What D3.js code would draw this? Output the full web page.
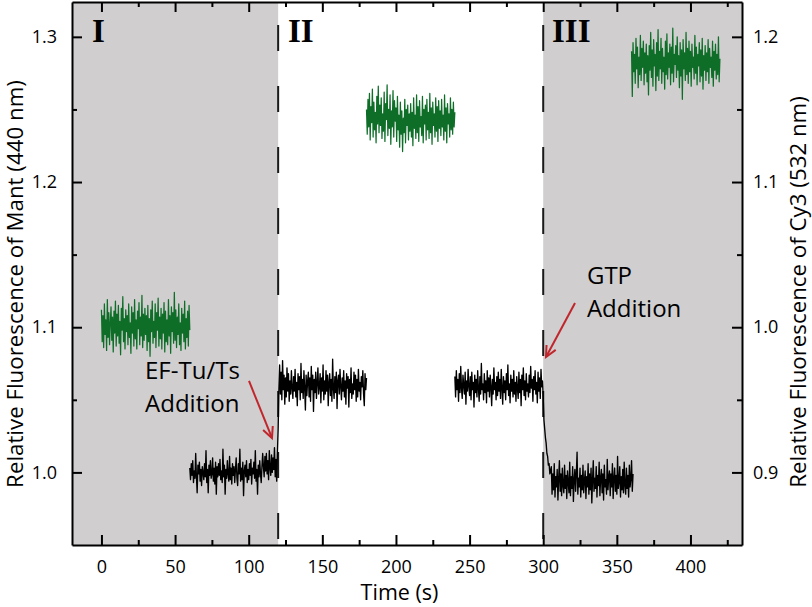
<!DOCTYPE html>
<html><head><meta charset="utf-8">
<script src="https://cdn.jsdelivr.net/npm/d3@7"></script>
<style>
html,body{margin:0;padding:0;background:#fff;}
svg{display:block;}
</style></head><body>
<svg id="chart" width="812" height="607"></svg>
<script>
// ---------------- DATA ----------------
const sampleStep = 0.5; // s between samples

// Mant fluorescence (left axis), black traces
const mantTrace1Start = 60;
const mantTrace1 = [
1.003,0.995,1.006,0.998,1.008,0.993,1.001,0.996,1.013,0.997,0.986,1.005,0.999,1.007,0.994,1.002,0.991,1.004,1.000,0.995,
1.006,0.997,1.015,0.993,1.002,0.986,1.005,0.998,1.008,0.996,0.999,1.010,0.994,1.003,0.992,1.007,0.985,1.004,0.997,1.006,
0.998,1.009,0.995,1.001,0.993,1.016,0.997,1.005,0.985,1.002,0.996,1.008,0.999,0.994,1.011,0.995,1.003,0.992,1.006,0.998,
1.004,0.993,1.002,1.010,0.996,0.991,1.006,0.999,1.016,0.994,1.003,0.995,1.007,0.984,1.001,1.005,0.997,1.008,0.993,1.002,
0.995,1.006,0.998,1.009,0.992,1.003,0.999,1.007,0.996,1.015,0.994,1.002,0.985,1.005,0.997,1.008,0.999,0.993,1.004,1.013,
1.004,0.997,1.011,1.001,1.013,0.999,1.008,0.995,1.015,1.003,0.998,1.012,1.000,1.010,1.002,1.017,0.997,1.009,0.994,1.014,
1.030,1.058,
1.074,1.054,1.069,1.050,1.077,1.057,1.067,1.047,1.065,1.052,1.072,1.056,1.068,1.049,1.063,1.054,1.070,1.058,1.051,1.066,
1.056,1.071,1.052,1.062,1.046,1.068,1.057,1.066,1.050,1.075,1.055,1.064,1.051,1.070,1.058,1.043,1.067,1.053,1.063,1.069,
1.052,1.065,1.049,1.073,1.057,1.067,1.042,1.064,1.055,1.069,1.051,1.062,1.072,1.054,1.059,1.068,1.048,1.065,1.056,1.074,
1.050,1.063,1.054,1.070,1.056,1.067,1.046,1.062,1.068,1.053,1.064,1.049,1.078,1.058,1.051,1.066,1.055,1.069,1.044,1.063,
1.067,1.054,1.071,1.059,1.050,1.065,1.056,1.070,1.052,1.063,1.047,1.068,1.058,1.066,1.045,1.064,1.055,1.072,1.051,1.061,
1.054,1.069,1.057,1.067,1.049,1.064,1.052,1.071,1.056,1.062,1.050,1.066,1.059,1.070,1.054,1.046,1.068,1.057,1.065
];
const mantTrace2Start = 240;
const mantTrace2 = [
1.066,1.052,1.070,1.057,1.064,1.049,1.068,1.055,1.073,1.058,1.051,1.067,1.060,1.054,1.069,1.047,1.063,1.056,1.071,1.059,
1.053,1.066,1.050,1.069,1.057,1.062,1.045,1.067,1.055,1.064,1.052,1.070,1.058,1.049,1.066,1.054,1.075,1.057,1.061,1.050,
1.068,1.055,1.063,1.048,1.070,1.056,1.065,1.052,1.067,1.059,1.046,1.064,1.054,1.072,1.057,1.062,1.050,1.066,1.053,1.069,
1.056,1.064,1.051,1.071,1.058,1.047,1.066,1.055,1.063,1.050,1.068,1.057,1.074,1.053,1.061,1.048,1.067,1.056,1.064,1.052,
1.070,1.054,1.062,1.049,1.066,1.058,1.051,1.069,1.055,1.064,1.046,1.067,1.057,1.072,1.053,1.063,1.050,1.068,1.056,1.061,
1.052,1.067,1.055,1.073,1.058,1.064,1.049,1.066,1.057,1.070,1.054,1.062,1.048,1.069,1.056,1.065,1.051,1.071,1.059,1.063,
1.052,1.036,1.030,1.024,1.020,1.013,1.011,1.005,1.006,0.999,1.001,
1.004,0.985,0.999,0.988,1.006,0.983,0.997,0.990,1.002,0.981,0.996,1.008,0.987,0.999,0.984,1.003,0.991,0.986,1.005,0.989,
0.998,0.982,1.001,0.993,0.986,1.007,0.984,0.997,0.989,1.004,0.980,0.995,1.002,0.987,0.999,1.014,0.985,0.996,0.990,1.003,
0.983,0.998,0.988,1.005,0.986,0.994,1.001,0.982,0.997,0.990,1.006,0.985,0.999,0.988,1.003,0.979,0.995,1.008,0.987,0.996,
0.989,1.004,0.983,0.998,0.991,1.007,0.984,0.996,1.002,0.986,0.999,0.981,1.005,0.990,0.995,0.985,1.009,0.988,0.997,1.001,
0.984,0.999,0.990,1.006,0.982,0.996,1.003,0.987,0.998,0.985,1.011,0.989,0.994,1.004,0.983,0.997,0.988,1.002,0.986,1.007,
0.991,0.985,1.003,0.989,0.998,0.983,1.005,0.990,0.996,1.008,0.987,0.999
];

// Cy3 fluorescence (right axis), green traces
const cy3Trace1Start = 0;
const cy3Trace1 = [
1.012,0.990,1.008,0.986,1.016,0.995,1.005,0.984,1.019,0.993,1.010,0.988,1.003,1.014,0.991,1.007,0.983,1.011,0.996,1.018,
0.987,1.009,0.994,1.015,0.989,1.004,0.981,1.013,0.998,1.021,0.990,1.006,0.985,1.012,0.997,1.008,0.988,1.016,0.993,1.003,
0.982,1.014,0.996,1.010,0.987,1.019,0.992,1.005,0.985,1.011,0.999,1.017,0.988,1.007,0.994,1.022,0.986,1.009,0.991,1.013,
0.995,1.008,0.984,1.015,0.990,1.006,0.980,1.012,0.997,1.018,0.989,1.004,0.993,1.016,0.986,1.010,0.998,1.020,0.987,1.007,
0.992,1.013,0.985,1.009,0.996,1.017,0.983,1.011,0.990,1.005,0.988,1.019,0.994,1.008,0.982,1.014,0.997,1.010,0.989,1.024,
0.991,1.012,0.986,1.007,0.995,1.016,0.988,1.003,0.984,1.013,0.996,1.009,0.990,1.018,0.985,1.006,0.993,1.011,0.987,1.015,0.998
];
const cy3Trace2Start = 180;
const cy3Trace2 = [
1.150,1.133,1.157,1.138,1.161,1.129,1.152,1.141,1.164,1.131,1.155,1.136,1.148,1.127,1.159,1.140,1.166,1.134,1.153,1.139,
1.158,1.130,1.147,1.135,1.162,1.128,1.154,1.143,1.167,1.132,1.150,1.137,1.160,1.126,1.149,1.138,1.163,1.131,1.156,1.142,
1.151,1.128,1.159,1.136,1.146,1.124,1.155,1.133,1.149,1.121,1.144,1.134,1.157,1.127,1.150,1.139,1.153,1.129,1.147,1.135,
1.154,1.131,1.148,1.125,1.158,1.137,1.146,1.130,1.160,1.134,1.152,1.128,1.156,1.138,1.145,1.132,1.159,1.127,1.150,1.140,
1.153,1.129,1.157,1.136,1.148,1.130,1.161,1.134,1.151,1.126,1.155,1.139,1.147,1.131,1.158,1.135,1.152,1.128,1.156,1.137,
1.149,1.132,1.157,1.138,1.146,1.129,1.160,1.135,1.151,1.127,1.154,1.140,1.147,1.131,1.158,1.136,1.150,1.133,1.155,1.138,1.148
];
const cy3Trace3Start = 360;
const cy3Trace3 = [
1.190,1.159,1.196,1.176,1.188,1.168,1.199,1.178,1.193,1.165,1.186,1.174,1.201,1.170,1.192,1.179,1.197,1.167,1.189,1.175,
1.195,1.169,1.187,1.160,1.194,1.177,1.203,1.172,1.191,1.166,1.198,1.180,1.188,1.163,1.196,1.173,1.205,1.170,1.190,1.178,
1.199,1.168,1.192,1.176,1.186,1.164,1.197,1.174,1.202,1.171,1.189,1.179,1.195,1.167,1.193,1.175,1.206,1.169,1.188,1.181,
1.194,1.172,1.200,1.177,1.187,1.165,1.196,1.173,1.191,1.157,1.198,1.178,1.189,1.170,1.203,1.174,1.192,1.168,1.197,1.176,
1.190,1.166,1.195,1.179,1.186,1.171,1.201,1.175,1.193,1.167,1.188,1.180,1.196,1.169,1.191,1.173,1.199,1.164,1.187,1.177,
1.194,1.170,1.189,1.176,1.198,1.168,1.192,1.179,1.186,1.172,1.197,1.166,1.190,1.177,1.195,1.171,1.188,1.174,1.200,1.169,1.185
];

// axes / ticks
const xDomain = [-20, 435];
const yLeftDomain = [0.95, 1.324];
const yRightDomain = [0.85, 1.224];
const xTicksMajor = [0, 50, 100, 150, 200, 250, 300, 350, 400];
const xTicksMinor = [25, 75, 125, 175, 225, 275, 325, 375, 425];
const yLeftTicks = [1.0, 1.1, 1.2, 1.3];
const yLeftMinor = [1.05, 1.15, 1.25];
const yRightTicks = [0.9, 1.0, 1.1, 1.2];
const yRightMinor = [0.95, 1.05, 1.15];

// phases and additions
const phaseNames = ["I", "II", "III"];
const additionTimes = [120, 300];
const additionNames = [["EF-Tu/Ts", "Addition"], ["GTP", "Addition"]];

// ---------------- DRAW ----------------
const svg = d3.select("#chart");
const sans = "'Open Sans','Noto Sans',sans-serif";
const plot = {left: 72, right: 742, top: 2, bottom: 545};

const x = d3.scaleLinear().domain(xDomain).range([plot.left, plot.right]);
const yL = d3.scaleLinear().domain(yLeftDomain).range([plot.bottom, plot.top]);
const yR = d3.scaleLinear().domain(yRightDomain).range([plot.bottom, plot.top]);

// shaded phases I and III
const shaded = [[xDomain[0], additionTimes[0]], [additionTimes[1], xDomain[1]]];
svg.append("g").selectAll("rect").data(shaded).join("rect")
  .attr("x", d => x(d[0])).attr("width", d => x(d[1]) - x(d[0]))
  .attr("y", plot.top).attr("height", plot.bottom - plot.top)
  .attr("fill", "#d0cecf");

// dashed lines at addition times
svg.append("g").selectAll("line").data(additionTimes).join("line")
  .attr("x1", d => x(d)).attr("x2", d => x(d))
  .attr("y1", plot.top).attr("y2", plot.bottom)
  .attr("stroke", "#1a1a1a").attr("stroke-width", 2)
  .attr("stroke-dasharray", "26,35").attr("stroke-dashoffset", 38);

function toPoints(start, vals) { return vals.map((v, i) => ({t: start + i * sampleStep, v})); }

const lineL = d3.line().x(d => x(d.t)).y(d => yL(d.v));
const lineR = d3.line().x(d => x(d.t)).y(d => yR(d.v));

const greenTraces = [[cy3Trace1Start, cy3Trace1], [cy3Trace2Start, cy3Trace2], [cy3Trace3Start, cy3Trace3]];
svg.append("g").selectAll("path").data(greenTraces).join("path")
  .attr("d", d => lineR(toPoints(d[0], d[1])))
  .attr("fill", "none").attr("stroke", "#0e6e28").attr("stroke-width", 1.25)
  .attr("stroke-linejoin", "round");

const blackTraces = [[mantTrace1Start, mantTrace1], [mantTrace2Start, mantTrace2]];
svg.append("g").selectAll("path").data(blackTraces).join("path")
  .attr("d", d => lineL(toPoints(d[0], d[1])))
  .attr("fill", "none").attr("stroke", "#000").attr("stroke-width", 1.35)
  .attr("stroke-linejoin", "round");

// axes
function styleAxis(g, fs) {
  g.attr("font-family", sans).attr("font-size", fs);
  g.select(".domain").attr("stroke", "#000").attr("stroke-width", 2);
  g.selectAll(".tick line").attr("stroke", "#000").attr("stroke-width", 2);
  g.selectAll(".tick text").attr("fill", "#000");
}
function minor(g) { g.select(".domain").remove(); g.selectAll(".tick line").attr("stroke", "#000").attr("stroke-width", 2); }

svg.append("g").attr("transform", `translate(0,${plot.bottom})`)
  .call(d3.axisBottom(x).tickValues(xTicksMajor).tickSizeInner(-10).tickSizeOuter(0).tickPadding(15))
  .call(g => styleAxis(g, 18));
svg.append("g").attr("transform", `translate(0,${plot.bottom})`)
  .call(d3.axisBottom(x).tickValues(xTicksMinor).tickSize(-5).tickFormat(""))
  .call(minor);
svg.append("g").attr("transform", `translate(0,${plot.top})`)
  .call(d3.axisTop(x).tickValues(xTicksMajor).tickSizeInner(-10).tickSizeOuter(0).tickFormat(""))
  .call(g => styleAxis(g, 18));
svg.append("g").attr("transform", `translate(0,${plot.top})`)
  .call(d3.axisTop(x).tickValues(xTicksMinor).tickSize(-5).tickFormat(""))
  .call(minor);
svg.append("g").attr("transform", `translate(${plot.left},0)`)
  .call(d3.axisLeft(yL).tickValues(yLeftTicks).tickFormat(d3.format(".1f")).tickSizeInner(-10).tickSizeOuter(0).tickPadding(15))
  .call(g => styleAxis(g, 18));
svg.append("g").attr("transform", `translate(${plot.left},0)`)
  .call(d3.axisLeft(yL).tickValues(yLeftMinor).tickSize(-5).tickFormat(""))
  .call(minor);
svg.append("g").attr("transform", `translate(${plot.right},0)`)
  .call(d3.axisRight(yR).tickValues(yRightTicks).tickFormat(d3.format(".1f")).tickSizeInner(-10).tickSizeOuter(0).tickPadding(11))
  .call(g => styleAxis(g, 18));
svg.append("g").attr("transform", `translate(${plot.right},0)`)
  .call(d3.axisRight(yR).tickValues(yRightMinor).tickSize(-5).tickFormat(""))
  .call(minor);

// axis titles
svg.append("text").attr("x", 399.5).attr("y", 600)
  .attr("text-anchor", "middle").attr("font-family", sans).attr("font-size", 21.5)
  .text("Time (s)");
svg.append("text").attr("transform", "translate(23,284) rotate(-90)")
  .attr("text-anchor", "middle").attr("font-family", sans).attr("font-size", 22.3)
  .text("Relative Fluorescence of Mant (440 nm)");
svg.append("text").attr("transform", "translate(806,292) rotate(-90)")
  .attr("text-anchor", "middle").attr("font-family", sans).attr("font-size", 22.3)
  .text("Relative Fluorescence of Cy3 (532 nm)");

// phase labels
const phaseLabelT = [-6.4, 126.7, 306];
svg.append("g").selectAll("text").data(phaseNames).join("text")
  .attr("x", (d, i) => x(phaseLabelT[i])).attr("y", yL(1.2964))
  .attr("font-family", "'Liberation Serif','Times New Roman',serif")
  .attr("font-weight", "bold").attr("font-size", 33).text(d => d);

// annotation text (two lines each, anchored in data coordinates)
const annot = [
  {t: 29.6, v: [1.0644, 1.0419]},
  {t: 329.7, v: [1.1297, 1.1072]}
];
annot.forEach((a, k) => {
  additionNames[k].forEach((s, j) => {
    svg.append("text").attr("x", x(a.t)).attr("y", yL(a.v[j]))
      .attr("font-family", sans).attr("font-size", 24).attr("fill", "#000").text(s);
  });
});

// arrows
const red = "#c0262c";
const arrows = [
  {from: [100.2, 1.063], to: [115.8, 1.0237]},
  {from: [321.6, 1.1167], to: [301.9, 1.0795]}
];
arrows.forEach(a => {
  const x1 = x(a.from[0]), y1 = yL(a.from[1]), x2 = x(a.to[0]), y2 = yL(a.to[1]);
  svg.append("line").attr("x1", x1).attr("y1", y1).attr("x2", x2).attr("y2", y2)
    .attr("stroke", red).attr("stroke-width", 2);
  const ang = Math.atan2(y2 - y1, x2 - x1), L = 12, spread = 0.45;
  const p1 = [x2 - L * Math.cos(ang - spread), y2 - L * Math.sin(ang - spread)];
  const p2 = [x2 - L * Math.cos(ang + spread), y2 - L * Math.sin(ang + spread)];
  svg.append("path").attr("d", `M${p1[0]},${p1[1]}L${x2},${y2}L${p2[0]},${p2[1]}`)
    .attr("fill", "none").attr("stroke", red).attr("stroke-width", 2)
    .attr("stroke-linejoin", "miter");
});
</script>
</body></html>
